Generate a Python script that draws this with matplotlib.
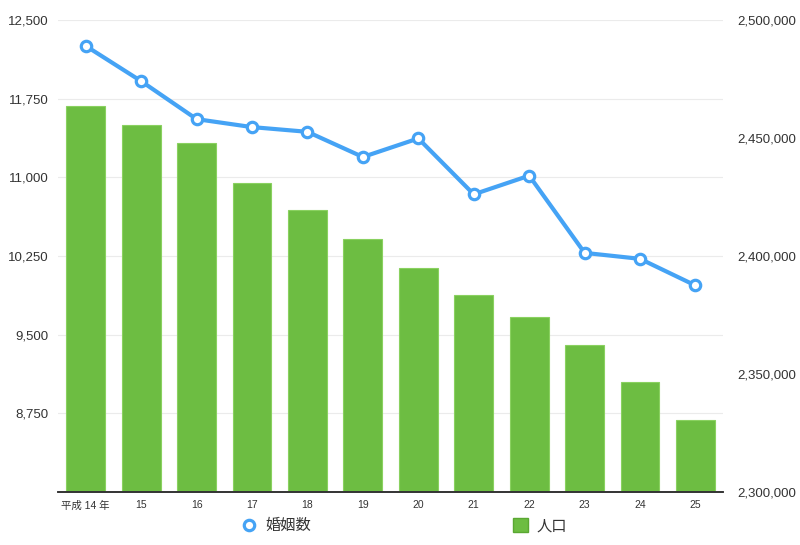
import matplotlib
matplotlib.use('Agg')
import matplotlib.pyplot as plt
from matplotlib.ticker import FuncFormatter
from matplotlib.lines import Line2D
from matplotlib.patches import Patch

plt.rcParams['font.family'] = ['Liberation Sans', 'Noto Sans CJK JP', 'DejaVu Sans']

# 年（平成）
years = ['平成 14 年', '15', '16', '17', '18', '19', '20', '21', '22', '23', '24', '25']
# 婚姻数（左軸）
marriages = [12253, 11917, 11555, 11479, 11434, 11194, 11371, 10838, 11016, 10280, 10223, 9969]
# 人口（右軸）
population = [2463700, 2455500, 2447700, 2431100, 2419400, 2407100,
              2394900, 2383300, 2374300, 2362100, 2346600, 2330400]

bar_color = '#6dbd42'
line_color = '#45a3f5'
text_color = '#333333'

fig = plt.figure(figsize=(8, 5.45), dpi=100)
ax = fig.add_axes([0.0725, 0.0972, 0.8315, 0.8661])
ax2 = ax.twinx()

x = list(range(len(years)))

# bars on right axis
ax2.bar(x, population, width=0.7, color=bar_color, edgecolor='#8ad160', linewidth=0.8, zorder=2)
ax2.set_ylim(2300000, 2500000)
ax2.set_yticks([2300000, 2350000, 2400000, 2450000, 2500000])
ax2.yaxis.set_major_formatter(FuncFormatter(lambda v, p: f'{int(v):,}'))

# line on left axis, drawn above bars
ax.set_zorder(ax2.get_zorder() + 1)
ax.patch.set_visible(False)
ax.plot(x, marriages, color=line_color, lw=3, marker='o', markersize=7.5,
        markerfacecolor='white', markeredgecolor=line_color, markeredgewidth=2.3, zorder=3)
ax.set_ylim(8000, 12500)
ax.set_yticks([8000, 8750, 9500, 10250, 11000, 11750, 12500])
ax.set_yticklabels(['', '8,750', '9,500', '10,250', '11,000', '11,750', '12,500'])
ax.set_xlim(-0.5, len(years) - 0.5)
ax.set_xticks(x)
ax.set_xticklabels(years)

# grid only from left axis, behind bars
for v in [8750, 9500, 10250, 11000, 11750, 12500]:
    ax2.axhline(2300000 + (v - 8000) / 4500 * 200000, color='#ebebeb', lw=0.8, zorder=0)

for a in (ax, ax2):
    for s in ['top', 'left', 'right']:
        a.spines[s].set_visible(False)
    a.spines['bottom'].set_color('#333333')
    a.spines['bottom'].set_linewidth(1.2)
    a.tick_params(length=0, colors=text_color)

ax.tick_params(axis='y', labelsize=9.5, pad=7)
ax2.tick_params(axis='y', labelsize=9.5, pad=10)
ax.tick_params(axis='x', labelsize=7.5, pad=6)

h1 = Line2D([], [], color=line_color, lw=0, marker='o', markersize=7.5,
            markerfacecolor='white', markeredgecolor=line_color, markeredgewidth=2.3)
h2 = Patch(facecolor=bar_color, edgecolor='#5aa832')
fig.legend(handles=[h1], labels=['婚姻数'], loc='center', bbox_to_anchor=(0.345, 0.035),
           frameon=False, fontsize=11, handlelength=1.0, handletextpad=0.6, labelcolor=text_color)
fig.legend(handles=[h2], labels=['人口'], loc='center', bbox_to_anchor=(0.675, 0.035),
           frameon=False, fontsize=11, handlelength=1.0, handleheight=1.0, handletextpad=0.6,
           labelcolor=text_color)

fig.savefig('out.png', dpi=100)
